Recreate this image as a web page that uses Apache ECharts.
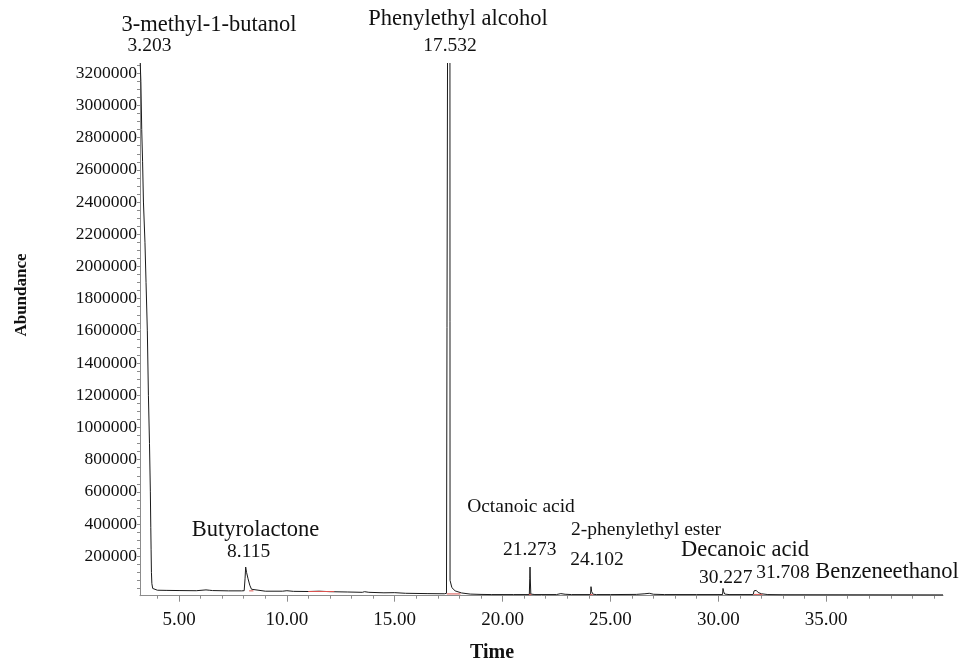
<!DOCTYPE html>
<html>
<head>
<meta charset="utf-8">
<script src="https://cdn.jsdelivr.net/npm/echarts@6/dist/echarts.min.js"></script>
<style>
html,body{margin:0;padding:0;background:#fff;}
#chart{width:962px;height:662px;}
</style>
</head>
<body>
<div id="chart"></div>
<script>
// ---- data ----
const times = [
  3.19, 3.23, 3.27, 3.31, 3.35, 3.42, 3.47, 3.53, 3.58, 3.63, 3.67, 3.69, 3.705, 3.72, 3.74, 3.78, 3.85, 4.00, 4.40,
  5.00, 5.80, 6.25, 6.40, 6.55, 7.30, 7.90,
  8.02, 8.06, 8.09, 8.13, 8.20, 8.28, 8.36, 8.45,
  9.00, 9.80, 10.00, 10.30, 11.00, 11.50, 12.00, 12.80, 13.50, 13.60, 13.80, 14.50, 15.00, 15.50, 16.50, 17.30,
  17.40, 17.45, 17.56, 17.565, 17.65, 17.80, 18.10, 18.50, 19.00, 19.50, 20.50,
  21.24, 21.26, 21.273, 21.29, 21.31, 21.50,
  22.50, 22.70, 22.90, 23.20,
  24.08, 24.10, 24.13, 24.20, 24.35,
  25.00, 26.20, 26.60, 26.80, 27.00, 27.50, 29.00,
  30.20, 30.22, 30.25, 30.30, 30.50,
  31.62, 31.66, 31.70, 31.76, 31.85, 32.00, 32.30, 33.00, 40.42
];
const abundance = [
  3300000, 3150000, 2850000, 2650000, 2400000, 2150000, 1900000, 1600000, 1200000, 900000, 600000, 380000, 240000, 100000, 30000, 0, -8000, -11000, -12000,
  -13000, -14000, -9000, -11000, -13000, -15000, -15000,
  -14000, 60000, 133000, 100000, 60000, 20000, -5000, -15000,
  -17000, -17000, -14000, -18000, -19000, -17000, -20000, -22000, -24000, -20000, -24000, -27000, -26000, -30000, -32000, -33000,
  -30000, 3400000, 3400000, 50000, 5000, -15000, -28000, -35000, -37000, -38000, -38000,
  -38000, 60000, 133000, 40000, -35000, -38000,
  -38000, -32000, -36000, -38000,
  -38000, 11000, -20000, -36000, -38000,
  -38000, -37000, -33000, -30000, -36000, -38000, -38000,
  -38000, 0, -20000, -35000, -38000,
  -38000, -15000, -5000, -12000, -25000, -33000, -38000, -39000, -40000
];
// integration baseline marks (red): start time, end time, level
const markStart = [8.25, 11.0, 17.42, 21.22, 24.05, 31.65];
const markEnd   = [8.45, 12.2, 18.05, 21.33, 24.18, 32.05];
const markLevel = [-15000, -19000, -34000, -38000, -38000, -37000];

// tick labels
const xTickLabels = [5, 10, 15, 20, 25, 30, 35];
const xMinorTicks = [4,5,6,7,8,9,10,11,12,13,14,15,16,17,18,19,20,21,22,23,24,25,26,27,28,29,30,31,32,33,34,35,36,37,38,39,40];
const yTickLabels = [200000,400000,600000,800000,1000000,1200000,1400000,1600000,1800000,2000000,2200000,2400000,2600000,2800000,3000000,3200000];
const yMinorTicks = [];
for (let v = 0; v <= 3250000; v += 50000) yMinorTicks.push(v);

// annotation texts
const compoundNames = ['3-methyl-1-butanol', 'Phenylethyl alcohol', 'Butyrolactone', 'Octanoic acid', '2-phenylethyl ester', 'Decanoic acid', 'Benzeneethanol'];
const retentionLabels = ['3.203', '17.532', '8.115', '21.273', '24.102', '30.227', '31.708'];

// ---- layout ----
const SERIF = '"Liberation Serif", "Times New Roman", serif';
const nameLayout = [
  {x: 209, y: 25, s: 22.5},
  {x: 458, y: 19, s: 22.5},
  {x: 255.5, y: 530, s: 22.5},
  {x: 521, y: 507, s: 19.5},
  {x: 646, y: 530, s: 19.5},
  {x: 745, y: 550, s: 22.5},
  {x: 887, y: 572, s: 22.5}
];
const rtLayout = [
  {x: 149.5, y: 46},
  {x: 450, y: 46},
  {x: 248.7, y: 552},
  {x: 529.7, y: 550},
  {x: 597, y: 560},
  {x: 725.7, y: 578},
  {x: 783, y: 573}
];

const trace = times.map((t, i) => [t, abundance[i]]);
const marks = [];
markStart.forEach((s, i) => {
  marks.push([s, markLevel[i]]);
  marks.push([markEnd[i], markLevel[i]]);
  marks.push([markEnd[i], '-']);
});

const graphics = [];
compoundNames.forEach((n, i) => {
  graphics.push({type: 'text', x: nameLayout[i].x, y: nameLayout[i].y, silent: true,
    style: {text: n, align: 'center', verticalAlign: 'middle', fontFamily: SERIF, fontSize: nameLayout[i].s, fill: '#111'}});
});
retentionLabels.forEach((n, i) => {
  graphics.push({type: 'text', x: rtLayout[i].x, y: rtLayout[i].y, silent: true,
    style: {text: n, align: 'center', verticalAlign: 'middle', fontFamily: SERIF, fontSize: 19.5, fill: '#111'}});
});
graphics.push({type: 'text', x: 22, y: 295, rotation: Math.PI / 2, silent: true,
  style: {text: 'Abundance', align: 'center', verticalAlign: 'middle', fontFamily: SERIF, fontSize: 17, fontWeight: 'bold', fill: '#111'}});
graphics.push({type: 'text', x: 492, y: 653, silent: true,
  style: {text: 'Time', align: 'center', verticalAlign: 'middle', fontFamily: SERIF, fontSize: 20, fontWeight: 'bold', fill: '#111'}});

const X_MIN = 3.19, X_MAX = 40.42, Y_MIN = -45000, Y_MAX = 3260000;
const axisGray = '#8c8c8c';

const chart = echarts.init(document.getElementById('chart'), null, {renderer: 'canvas'});
chart.setOption({
  animation: false,
  backgroundColor: '#fff',
  grid: {left: 140, right: 19, top: 63.6, bottom: 66.3, containLabel: false, outerBoundsMode: 'none'},
  xAxis: [
    {
      type: 'value', min: X_MIN, max: X_MAX, position: 'bottom',
      axisLine: {show: true, onZero: false, lineStyle: {color: axisGray, width: 1}},
      axisTick: {show: true, customValues: xTickLabels, length: 6, lineStyle: {color: axisGray}},
      axisLabel: {show: true, customValues: xTickLabels, margin: 15, fontFamily: SERIF, fontSize: 19, color: '#111',
        formatter: v => Number(v).toFixed(2)},
      splitLine: {show: false}
    },
    {
      type: 'value', min: X_MIN, max: X_MAX, position: 'bottom', gridIndex: 0,
      axisLine: {show: false, onZero: false},
      axisTick: {show: true, customValues: xMinorTicks, length: 3, lineStyle: {color: axisGray}},
      axisLabel: {show: false},
      splitLine: {show: false}
    }
  ],
  yAxis: [
    {
      type: 'value', min: Y_MIN, max: Y_MAX, position: 'left',
      axisLine: {show: true, onZero: false, lineStyle: {color: axisGray, width: 1}},
      axisTick: {show: true, customValues: yMinorTicks, length: 3, lineStyle: {color: axisGray}},
      axisLabel: {show: true, customValues: yTickLabels, margin: 3, fontFamily: SERIF, fontSize: 17.5, color: '#111',
        formatter: v => String(Math.round(v))},
      splitLine: {show: false}
    }
  ],
  graphic: graphics,
  series: [
    {
      type: 'line', name: 'TIC', data: trace, xAxisIndex: 0, yAxisIndex: 0,
      showSymbol: false, symbol: 'none', clip: true,
      lineStyle: {color: '#1a1a1a', width: 1}
    },
    {
      type: 'line', name: 'marks', data: marks, xAxisIndex: 0, yAxisIndex: 0,
      showSymbol: false, symbol: 'none', clip: true, connectNulls: false,
      lineStyle: {color: '#d9534f', width: 1}
    }
  ]
});
</script>
</body>
</html>
